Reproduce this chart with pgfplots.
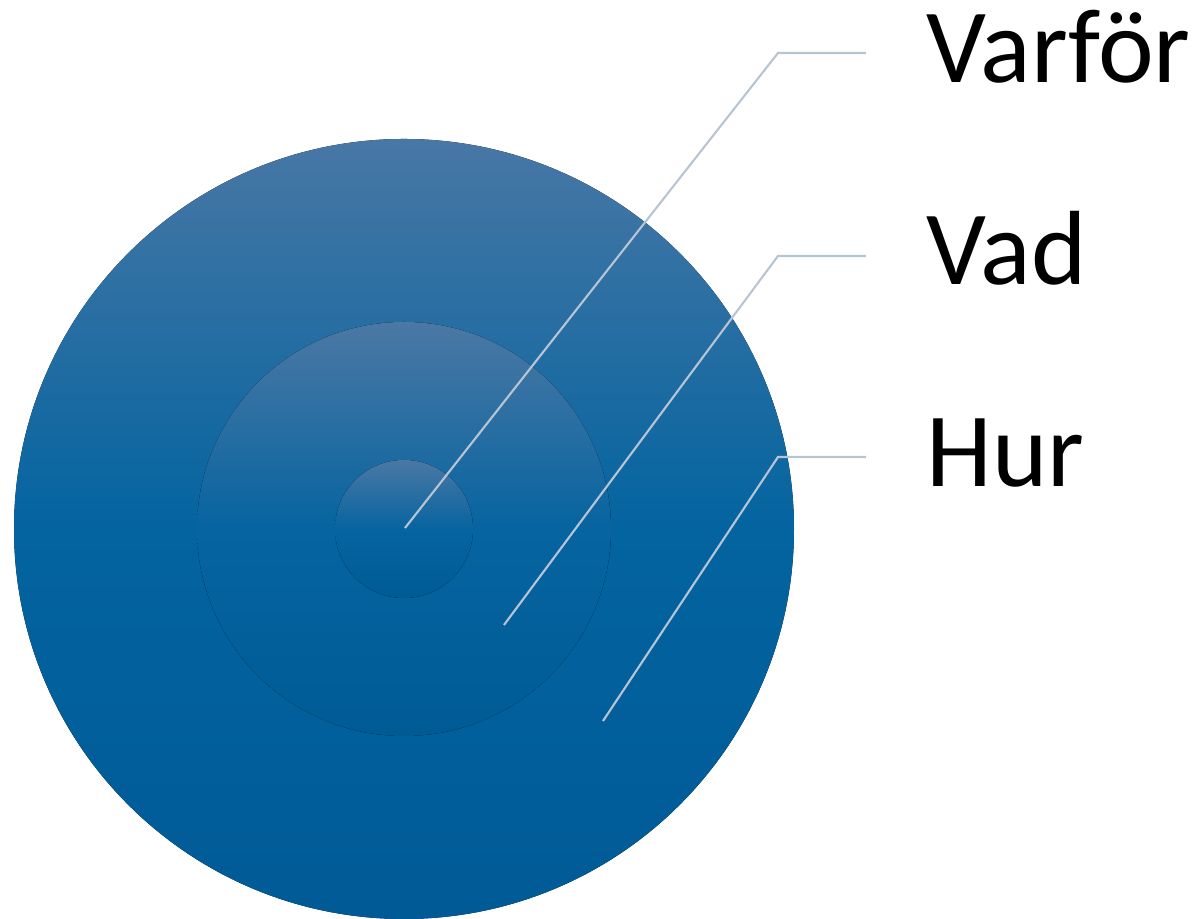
\documentclass[border=0pt]{standalone}
\usepackage{pgfplots}
\pgfplotsset{compat=1.18}
\usepackage{fontspec}
\setmainfont{Carlito}
\definecolor{ctop}{HTML}{4877A5}
\definecolor{cmid}{HTML}{0364A0}
\definecolor{cbot}{HTML}{005A96}
\definecolor{itop}{HTML}{4B78A4}
\definecolor{imid}{HTML}{0664A0}
\definecolor{ibot}{HTML}{005B95}
\definecolor{leader}{HTML}{B9C4D2}
\begin{document}
\begin{tikzpicture}
\begin{axis}[
  x=0.01cm, y=0.01cm,
  xmin=0, xmax=1200, ymin=0, ymax=919,
  hide axis, clip=false,
]
% frame of the picture
\addplot[draw=none] coordinates {(0,0) (1200,919)};
% rings (centre 404,390 in axis units)
\fill[top color=ctop, bottom color=cbot, middle color=cmid]
  (axis cs:404,390) circle[radius=390];
\fill[top color=itop, bottom color=ibot, middle color=imid]
  (axis cs:404,390) circle[radius=207];
\fill[top color=itop, bottom color=ibot, middle color=imid]
  (axis cs:404,390) circle[radius=69];
% leader lines
\addplot[leader, line width=0.6pt, no marks] coordinates {(405,391) (778,866) (866,866)};
\addplot[leader, line width=0.6pt, no marks] coordinates {(504,294) (778,663) (866,663)};
\addplot[leader, line width=0.6pt, no marks] coordinates {(603,198) (778,462) (866,462)};
% labels
\node[anchor=base west, inner sep=0pt, font=\fontsize{30}{36}\selectfont] at (axis cs:926,836) {Varför};
\node[anchor=base west, inner sep=0pt, font=\fontsize{30}{36}\selectfont] at (axis cs:926,634) {Vad};
\node[anchor=base west, inner sep=0pt, font=\fontsize{30}{36}\selectfont] at (axis cs:926,432) {Hur};
\end{axis}
\end{tikzpicture}
\end{document}
